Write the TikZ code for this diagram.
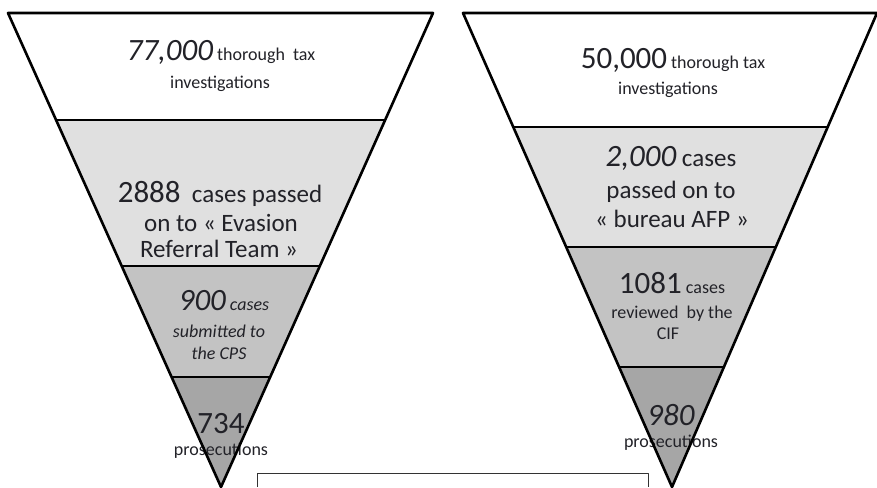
\documentclass[tikz,border=0pt]{standalone}
\usepackage{fontspec}
\setmainfont{Carlito}
\usepackage{xcolor}
\usetikzlibrary{calc}

\definecolor{bandB}{RGB}{224,224,224}
\definecolor{bandC}{RGB}{195,195,195}
\definecolor{bandD}{RGB}{166,166,166}
\definecolor{inktext}{RGB}{34,34,40}

\newcommand{\numsize}{\fontsize{31}{31}\selectfont}
\newcommand{\medsize}{\fontsize{25}{25}\selectfont}
\newcommand{\smlsize}{\fontsize{18}{18}\selectfont}

\begin{document}
\begin{tikzpicture}[x=1pt, y=-1pt, line join=round,
    edge/.style={draw=black, line width=2.6pt},
    lbl/.style={anchor=base, inner sep=0pt, text=inktext}]
    \path[use as bounding box] (0,0) rectangle (877,487);
    % left funnel
    \coordinate (LA) at (8,13);
    \coordinate (LB) at (433,13);
    \coordinate (LO) at (221,487);
    \coordinate (L1a) at ($(LA)!0.2257!(LO)$);
    \coordinate (L1b) at ($(LB)!0.2257!(LO)$);
    \coordinate (L2a) at ($(LA)!0.5338!(LO)$);
    \coordinate (L2b) at ($(LB)!0.5338!(LO)$);
    \coordinate (L3a) at ($(LA)!0.7679!(LO)$);
    \coordinate (L3b) at ($(LB)!0.7679!(LO)$);
    \fill[white] (LA) -- (LB) -- (L1b) -- (L1a) -- cycle;
    \fill[bandB] (L1a) -- (L1b) -- (L2b) -- (L2a) -- cycle;
    \fill[bandC] (L2a) -- (L2b) -- (L3b) -- (L3a) -- cycle;
    \fill[bandD] (L3a) -- (L3b) -- (LO) -- cycle;
    % right funnel
    \coordinate (RA) at (463,13);
    \coordinate (RB) at (877,13);
    \coordinate (RO) at (672,487);
    \coordinate (R1a) at ($(RA)!0.2405!(RO)$);
    \coordinate (R1b) at ($(RB)!0.2405!(RO)$);
    \coordinate (R2a) at ($(RA)!0.4937!(RO)$);
    \coordinate (R2b) at ($(RB)!0.4937!(RO)$);
    \coordinate (R3a) at ($(RA)!0.7468!(RO)$);
    \coordinate (R3b) at ($(RB)!0.7468!(RO)$);
    \fill[white] (RA) -- (RB) -- (R1b) -- (R1a) -- cycle;
    \fill[bandB] (R1a) -- (R1b) -- (R2b) -- (R2a) -- cycle;
    \fill[bandC] (R2a) -- (R2b) -- (R3b) -- (R3a) -- cycle;
    \fill[bandD] (R3a) -- (R3b) -- (RO) -- cycle;

    % left labels
    \node[lbl, font=\smlsize] (linv1) at (221,60) {{\numsize\itshape 77,000} thorough\ \ tax};
    \node[lbl, font=\smlsize] (linv2) at (220,88) {investigations};
    \node[lbl, font=\medsize] (lert1) at (220,202) {{\numsize 2888}\ \ cases passed};
    \node[lbl, font=\medsize] (lert2) at (221,231) {on to « Evasion};
    \node[lbl, font=\medsize] (lert3) at (219,257) {Referral Team »};
    \node[lbl, font=\smlsize\itshape] (lcps1) at (224,310) {{\numsize 900} cases};
    \node[lbl, font=\smlsize\itshape] (lcps2) at (219,337) {submitted to};
    \node[lbl, font=\smlsize\itshape] (lcps3) at (219,359) {the CPS};
    \node[lbl, font=\numsize] (lpro1) at (221,433) {734};
    \node[lbl, font=\smlsize] (lpro2) at (221,455) {prosecutions};

    % right labels
    \node[lbl, font=\smlsize] (rinv1) at (673,68) {{\numsize 50,000} thorough tax};
    \node[lbl, font=\smlsize] (rinv2) at (668,94) {investigations};
    \node[lbl, font=\medsize] (rafp1) at (671,166) {{\numsize\itshape 2,000} cases};
    \node[lbl, font=\medsize] (rafp2) at (671,198) {passed on to};
    \node[lbl, font=\medsize] (rafp3) at (672,227) {« bureau AFP »};
    \node[lbl, font=\smlsize] (rcif1) at (672,293) {{\numsize 1081} cases};
    \node[lbl, font=\smlsize] (rcif2) at (672,318) {reviewed\ \ by the};
    \node[lbl, font=\smlsize] (rcif3) at (668,339) {CIF};
    \node[lbl, font=\numsize\itshape] (rpro1) at (671,425) {980};
    \node[lbl, font=\smlsize] (rpro2) at (671,447) {prosecutions};

    % outlines on top
    \draw[edge] (LA) -- (LB) -- (LO) -- cycle;
    \draw[edge] (L1a) -- (L1b) (L2a) -- (L2b) (L3a) -- (L3b);
    \draw[edge] (RA) -- (RB) -- (RO) -- cycle;
    \draw[edge] (R1a) -- (R1b) (R2a) -- (R2b) (R3a) -- (R3b);

    % empty box at the foot
    \fill[white] (257,473) rectangle (648,487);
    \draw[black!80, line width=1pt] (257,487) -- (257,473) -- (648,473) -- (648,487);
\end{tikzpicture}
\end{document}
